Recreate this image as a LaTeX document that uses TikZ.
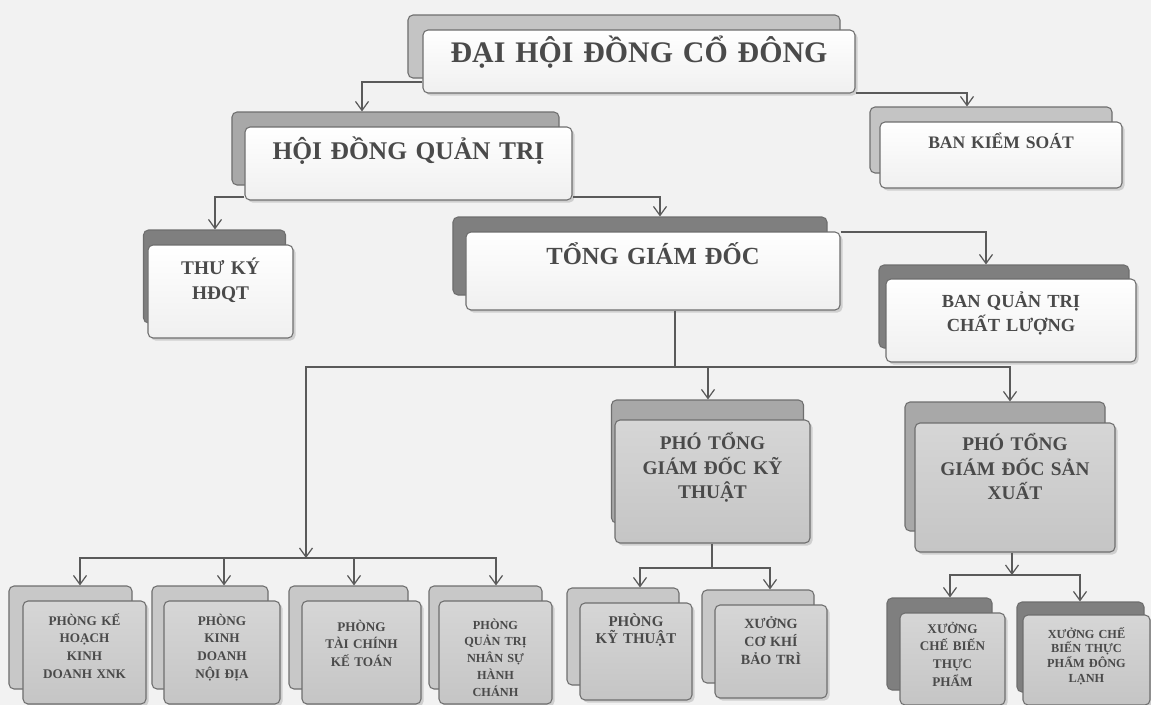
\documentclass[tikz,border=0pt]{standalone}
\usepackage{fontspec}
\setmainfont{Liberation Serif}
\usepackage{xcolor}
\usetikzlibrary{arrows.meta,shadows}
\definecolor{bgcol}{HTML}{F2F2F2}
\definecolor{textcol}{HTML}{4A4A4A}
\definecolor{linecol}{HTML}{5A5A5A}
\definecolor{edgecol}{HTML}{6E6E6E}
\definecolor{backlt}{HTML}{C4C4C4}
\definecolor{backmd}{HTML}{A8A8A8}
\definecolor{backdk}{HTML}{7F7F7F}
\definecolor{deptfill}{HTML}{D6D6D6}
\definecolor{deptback}{HTML}{C8C8C8}
\begin{document}
\begin{tikzpicture}[x=0.2mm,y=-0.2mm,
    >={Straight Barb[length=1.8mm,width=2.6mm]},
    conn/.style={draw=linecol,line width=0.7pt},
    backbox/.style={draw=edgecol,fill=#1,rounded corners=1mm,inner sep=0pt,line width=0.6pt},
    unitbox/.style={draw=edgecol,top color=white,bottom color=gray!12,rounded corners=1mm,inner sep=0pt,
        line width=0.6pt,align=center,text=textcol,drop shadow={shadow xshift=0.5mm,shadow yshift=-0.5mm,opacity=0.3}},
    deptbox/.style={unitbox,top color=deptfill,bottom color=deptfill!92!black}]
    \useasboundingbox(0,0)rectangle(1151,705);
    \fill[bgcol](0,0)rectangle(1151,705);
    % upper levels
    \node[backbox=backlt,minimum width=86.4mm,minimum height=12.6mm](dhb)at(624,46.5){};
    \node[unitbox,text width=86.4mm,text height=6.5mm,text depth=6.1mm,font=\bfseries\fontsize{17}{20}\selectfont](dh)at(639,61.5){ĐẠI HỘI ĐỒNG CỔ ĐÔNG};
    \node[backbox=backlt,minimum width=48.4mm,minimum height=13.2mm](bksb)at(991,140){};
    \node[unitbox,text width=48.4mm,text height=5.3mm,text depth=7.9mm,font=\bfseries\fontsize{10}{13}\selectfont](bks)at(1001,155){BAN KIỂM SOÁT};
    \node[backbox=backmd,minimum width=65.4mm,minimum height=14.6mm](hdqtb)at(395.5,148.5){};
    \node[unitbox,text width=65.4mm,text height=6.4mm,text depth=8.2mm,font=\bfseries\fontsize{14.5}{17}\selectfont](hdqt)at(408.5,163.5){HỘI ĐỒNG QUẢN TRỊ};
    \node[backbox=backdk,minimum width=28.4mm,minimum height=18.6mm](tkyb)at(214.5,276.5){};
    \node[unitbox,text width=29mm,text height=5.8mm,text depth=12.8mm,font=\bfseries\fontsize{11}{14.5}\selectfont](tky)at(220.5,291.5){THƯ KÝ\\HĐQT};
    \node[backbox=backdk,minimum width=74.8mm,minimum height=15.6mm](tgdb)at(640,256){};
    \node[unitbox,text width=74.8mm,text height=6.4mm,text depth=9.2mm,font=\bfseries\fontsize{14}{17}\selectfont](tgd)at(653,271){TỔNG GIÁM ĐỐC};
    \node[backbox=backdk,minimum width=50mm,minimum height=16.6mm](bqtb)at(1004,306.5){};
    \node[unitbox,text width=50mm,text height=5.6mm,text depth=11mm,font=\bfseries\fontsize{10.5}{14}\selectfont](bqt)at(1011,320.5){BAN QUẢN TRỊ\\CHẤT LƯỢNG};
    % deputy directors
    \node[backbox=backmd,minimum width=38.4mm,minimum height=24.6mm](pgktb)at(707.5,461.5){};
    \node[deptbox,text width=39mm,text height=5.9mm,text depth=18.7mm,font=\bfseries\fontsize{11}{14}\selectfont](pgkt)at(712.5,481.5){PHÓ TỔNG\\GIÁM ĐỐC KỸ\\THUẬT};
    \node[backbox=backmd,minimum width=40mm,minimum height=25.8mm](pgsxb)at(1005,466.5){};
    \node[deptbox,text width=40mm,text height=5.5mm,text depth=20.3mm,font=\bfseries\fontsize{11}{14}\selectfont](pgsx)at(1015,487.5){PHÓ TỔNG\\GIÁM ĐỐC SẢN\\XUẤT};
    % departments
    \node[backbox=deptback,minimum width=24.6mm,minimum height=20.6mm](pkhb)at(70.5,637.5){};
    \node[deptbox,text width=24.6mm,text height=4.8mm,text depth=15.8mm,font=\bfseries\fontsize{7.5}{10.2}\selectfont](pkh)at(84.5,652.5){PHÒNG KẾ\\HOẠCH\\KINH\\DOANH XNK};
    \node[backbox=deptback,minimum width=23.2mm,minimum height=20.6mm](pkdb)at(210,637.5){};
    \node[deptbox,text width=23.2mm,text height=4.8mm,text depth=15.8mm,font=\bfseries\fontsize{7.5}{10.2}\selectfont](pkd)at(222,652.5){PHÒNG\\KINH\\DOANH\\NỘI ĐỊA};
    \node[backbox=deptback,minimum width=23.8mm,minimum height=20.6mm](ptcb)at(348.5,637.5){};
    \node[deptbox,text width=23.8mm,text height=6mm,text depth=14.6mm,font=\bfseries\fontsize{7.5}{10.2}\selectfont](ptc)at(361.5,652.5){PHÒNG\\TÀI CHÍNH\\KẾ TOÁN};
    \node[backbox=deptback,minimum width=22.6mm,minimum height=20.6mm](pqtb)at(485.5,637.5){};
    \node[deptbox,text width=22.6mm,text height=5.6mm,text depth=15mm,font=\bfseries\fontsize{7}{9.6}\selectfont](pqt)at(495.5,652.5){PHÒNG\\QUẢN TRỊ\\NHÂN SỰ\\HÀNH\\CHÁNH};
    \node[backbox=deptback,minimum width=22.4mm,minimum height=19.4mm](pktb)at(623,636.5){};
    \node[deptbox,text width=22.4mm,text height=4.6mm,text depth=14.8mm,font=\bfseries\fontsize{8.5}{10.2}\selectfont](pkt)at(636,651.5){PHÒNG\\KỸ THUẬT};
    \node[backbox=deptback,minimum width=22.4mm,minimum height=18.6mm](xckb)at(758,636.5){};
    \node[deptbox,text width=22.4mm,text height=4.6mm,text depth=14mm,font=\bfseries\fontsize{8}{10.5}\selectfont](xck)at(771,651.5){XƯỞNG\\CƠ KHÍ\\BẢO TRÌ};
    \node[backbox=backdk,minimum width=21mm,minimum height=18.4mm](xcbtpb)at(939.5,644){};
    \node[deptbox,text width=21mm,text height=4mm,text depth=14.4mm,font=\bfseries\fontsize{7.5}{10.2}\selectfont](xcbtp)at(952.5,659){XƯỞNG\\CHẾ BIẾN\\THỰC\\PHẨM};
    \node[backbox=backdk,minimum width=25.4mm,minimum height=18mm](xcbdlb)at(1080.5,647){};
    \node[deptbox,text width=25.4mm,text height=4.6mm,text depth=13.4mm,font=\bfseries\fontsize{7}{8.4}\selectfont](xcbdl)at(1086.5,660){XƯỞNG CHẾ\\BIẾN THỰC\\PHẨM ĐÔNG\\LẠNH};
    % junctions
    \coordinate(tj)at(675,367);
    \coordinate(lj)at(306,558);
    \coordinate(kj)at(712,568);
    \coordinate(sj)at(1012,575);
    % connectors
    \draw[conn,->](dh.west|-0,82)-|(hdqtb.north-|362,0);
    \draw[conn,->](dh.east|-0,93)-|(bksb.north-|967,0);
    \draw[conn,->](hdqt.west|-0,197)-|(tkyb.north-|215,0);
    \draw[conn,->](hdqt.east|-0,197)-|(tgdb.north-|660,0);
    \draw[conn,->](tgd.east|-0,232)-|(bqtb.north-|986,0);
    \draw[conn](tgd.south-|tj)--(tj);
    \draw[conn,->](tj)-|(lj);
    \draw[conn,->](tj)-|(pgktb.north-|708,0);
    \draw[conn,->](tj)-|(pgsxb.north-|1010,0);
    \draw[conn,->](lj)-|(pkhb.north-|80,0);
    \draw[conn,->](lj)-|(pkdb.north-|224,0);
    \draw[conn,->](lj)-|(ptcb.north-|354,0);
    \draw[conn,->](lj)-|(pqtb.north-|496,0);
    \draw[conn](pgkt.south-|kj)--(kj);
    \draw[conn,->](kj)-|(pktb.north-|640,0);
    \draw[conn,->](kj)-|(xckb.north-|770,0);
    \draw[conn,->](pgsx.south-|sj)--(sj);
    \draw[conn,->](sj)-|(xcbtpb.north-|950,0);
    \draw[conn,->](sj)-|(xcbdlb.north-|1080,0);
\end{tikzpicture}
\end{document}
